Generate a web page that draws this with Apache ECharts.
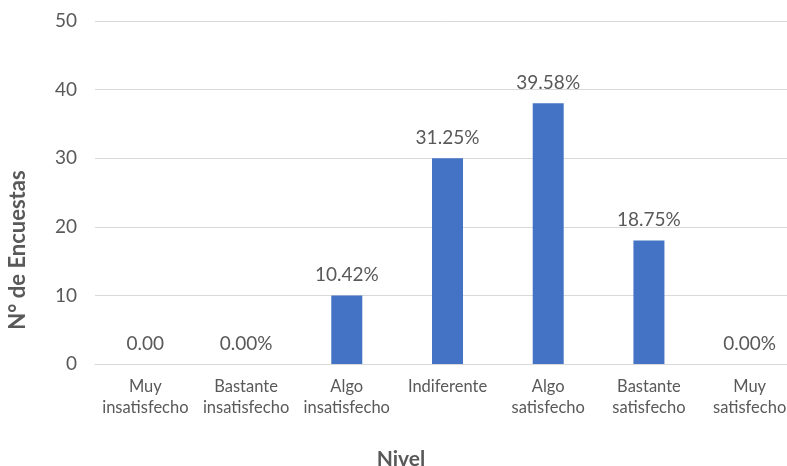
<!DOCTYPE html>
<html>
<head>
<meta charset="utf-8">
<script src="https://cdn.jsdelivr.net/npm/echarts@6/dist/echarts.min.js"></script>
<style>
  html, body { margin: 0; padding: 0; background: #ffffff; }
  #chart { width: 787px; height: 466px; }
</style>
</head>
<body>
<div id="chart"></div>
<script>
// Niveles de satisfacción y número de encuestas por nivel
const categories = [
  'Muy\ninsatisfecho',
  'Bastante\ninsatisfecho',
  'Algo\ninsatisfecho',
  'Indiferente',
  'Algo\nsatisfecho',
  'Bastante\nsatisfecho',
  'Muy\nsatisfecho'
];
const counts = [0, 0, 10, 30, 38, 18, 0];
const percentLabels = ['0.00', '0.00%', '10.42%', '31.25%', '39.58%', '18.75%', '0.00%'];
const yTicks = [0, 10, 20, 30, 40, 50];

const FONT = 'Lato, "Open Sans", sans-serif';
const TEXT = '#595959';

const chart = echarts.init(document.getElementById('chart'), null, { renderer: 'canvas' });

chart.setOption({
  animation: false,
  backgroundColor: '#ffffff',
  grid: {
    left: 95, width: 705, top: 21, bottom: 102,
    containLabel: false,
    outerBoundsMode: 'none'
  },
  xAxis: {
    type: 'category',
    data: categories,
    axisLine: { show: true, lineStyle: { color: '#d9d9d9', width: 1 } },
    axisTick: { show: false },
    axisLabel: {
      color: TEXT, fontFamily: FONT, fontSize: 16.5, lineHeight: 21,
      margin: 12, interval: 0
    }
  },
  yAxis: {
    type: 'value',
    min: yTicks[0],
    max: yTicks[yTicks.length - 1],
    interval: 10,
    axisLine: { show: false },
    axisTick: { show: false },
    splitLine: { lineStyle: { color: '#d9d9d9', width: 1 } },
    axisLabel: { color: TEXT, fontFamily: FONT, fontSize: 19, margin: 18 }
  },
  series: [{
    type: 'bar',
    data: counts,
    barWidth: 31,
    itemStyle: { color: '#4472C4' },
    label: {
      show: true,
      position: 'top',
      distance: 11,
      color: TEXT,
      fontFamily: FONT,
      fontSize: 19,
      formatter: p => percentLabels[p.dataIndex]
    }
  }],
  graphic: [
    {
      type: 'text',
      x: 18, y: 250,
      rotation: Math.PI / 2,
      style: {
        text: 'N° de Encuestas',
        fill: TEXT,
        font: 'bold 22px ' + FONT,
        align: 'center',
        verticalAlign: 'middle'
      }
    },
    {
      type: 'text',
      x: 401, y: 459,
      style: {
        text: 'Nivel',
        fill: TEXT,
        font: 'bold 21px ' + FONT,
        align: 'center',
        verticalAlign: 'middle'
      }
    }
  ]
});
</script>
</body>
</html>
